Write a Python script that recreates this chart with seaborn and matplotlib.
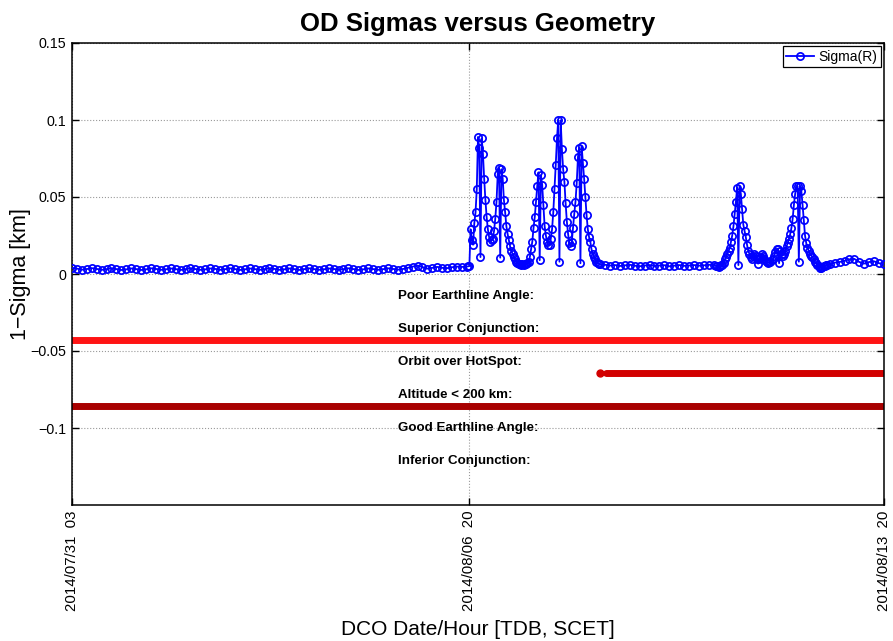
import numpy as np
import pandas as pd
import matplotlib
matplotlib.use("Agg")
import matplotlib.pyplot as plt
import seaborn as sns

# ---------------- data ----------------
START = pd.Timestamp("2014-07-31 03:00")
END_HOURS = 329  # 2014/08/13 20

# sigma(R) series, given as segments: (start hour, step in hours, values in km)
seg_a_start, seg_a_step = 0.0, 2.0
seg_a_vals = [0.0040, 0.0035, 0.0028, 0.0032, 0.0038, 0.0033, 0.0027, 0.0031, 0.0037, 0.0032,
              0.0026, 0.0030, 0.0036, 0.0032, 0.0026, 0.0030, 0.0037, 0.0033, 0.0027, 0.0030,
              0.0036, 0.0032, 0.0026, 0.0031, 0.0037, 0.0032, 0.0027, 0.0030, 0.0036, 0.0033,
              0.0027, 0.0031, 0.0037, 0.0032, 0.0026, 0.0030, 0.0036, 0.0032, 0.0027, 0.0031,
              0.0037, 0.0033, 0.0027, 0.0030, 0.0036, 0.0032, 0.0026, 0.0031, 0.0037, 0.0032,
              0.0027, 0.0030, 0.0036, 0.0033, 0.0027, 0.0031, 0.0037, 0.0032, 0.0026, 0.0030,
              0.0036, 0.0032, 0.0027, 0.0031, 0.0037, 0.0033, 0.0028, 0.0032, 0.0040, 0.0048,
              0.0055, 0.0045, 0.0035, 0.0040, 0.0046, 0.0040, 0.0038, 0.0044, 0.0048, 0.0046,
              0.0048]

seg_b_start, seg_b_step = 160.5, 0.5
seg_b_vals = [0.0050, 0.0052, 0.029, 0.022, 0.019, 0.033, 0.040, 0.055, 0.089, 0.082,
              0.011, 0.088, 0.078, 0.062, 0.048, 0.037, 0.029, 0.024, 0.021, 0.022,
              0.023, 0.028, 0.036, 0.047, 0.065, 0.069, 0.0106, 0.068, 0.062, 0.048,
              0.040, 0.031, 0.026, 0.022, 0.018, 0.015, 0.013, 0.011, 0.0095, 0.0080,
              0.0070, 0.0065, 0.0068, 0.0060, 0.0063, 0.0058, 0.0062, 0.0066, 0.0070, 0.0075,
              0.011, 0.016, 0.021, 0.030, 0.037, 0.047, 0.057, 0.066, 0.009, 0.064,
              0.058, 0.045, 0.031, 0.025, 0.021, 0.019, 0.019, 0.023, 0.029, 0.040,
              0.055, 0.071, 0.088, 0.0998, 0.008, 0.0998, 0.081, 0.068, 0.060, 0.046,
              0.034, 0.026, 0.020, 0.018, 0.021, 0.030, 0.039, 0.047, 0.059, 0.076,
              0.082, 0.007, 0.083, 0.072, 0.062, 0.050, 0.038, 0.029, 0.024, 0.021,
              0.016, 0.013, 0.011, 0.0095, 0.0080, 0.0070, 0.0065, 0.0062]

seg_c_start, seg_c_step = 216.0, 2.0
seg_c_vals = [0.0060, 0.0055, 0.0058, 0.0052, 0.0056, 0.0060, 0.0054, 0.0050, 0.0055, 0.0058,
              0.0052, 0.0055, 0.0057, 0.0050, 0.0054, 0.0058, 0.0053, 0.0055, 0.0058, 0.0054,
              0.0056, 0.0060, 0.0058]

seg_d_start, seg_d_step = 261.0, 0.5
seg_d_vals = [0.0055, 0.0050, 0.0048, 0.0052, 0.0058, 0.0060, 0.0072, 0.0095, 0.011, 0.013,
              0.015, 0.017, 0.021, 0.025, 0.031, 0.039, 0.047, 0.056, 0.0058, 0.057,
              0.052, 0.042, 0.032, 0.028, 0.024, 0.019, 0.015, 0.013, 0.011, 0.010,
              0.012, 0.013, 0.012, 0.010, 0.0067, 0.010, 0.011, 0.013, 0.012, 0.010,
              0.0085, 0.0078, 0.0072, 0.0075, 0.0080, 0.0088, 0.0097, 0.012, 0.014, 0.016,
              0.0165, 0.007, 0.015, 0.013, 0.012, 0.013, 0.015, 0.018, 0.020, 0.023,
              0.026, 0.030, 0.036, 0.045, 0.052, 0.057, 0.057, 0.008, 0.057, 0.054,
              0.045, 0.035, 0.025, 0.020, 0.017, 0.015, 0.013, 0.012, 0.011, 0.0095,
              0.0080, 0.0070, 0.0060, 0.0050, 0.0042, 0.0040, 0.0044, 0.0050, 0.0055, 0.0058,
              0.0060]

seg_e_start, seg_e_step = 307.0, 2.0
seg_e_vals = [0.0065, 0.0074, 0.0078, 0.0086, 0.0095, 0.0098, 0.0078, 0.0068, 0.0078, 0.0082,
              0.0070, 0.0062]

# geometry events: label, level [km], spans (start hour, end hour), colour
event_labels = ["Poor Earthline Angle:", "Superior Conjunction:", "Orbit over HotSpot:",
                "Altitude < 200 km:", "Good Earthline Angle:", "Inferior Conjunction:"]
event_levels = [-0.0214, -0.0429, -0.0643, -0.0857, -0.1071, -0.1286]
event_spans = {
    "Superior Conjunction:": [(0.0, 329.0)],
    "Orbit over HotSpot:": [(213.9, 213.9), (216.3, 329.0)],
    "Altitude < 200 km:": [(0.0, 329.0)],
}
event_colors = {
    "Superior Conjunction:": "#ff1414",
    "Orbit over HotSpot:": "#d20000",
    "Altitude < 200 km:": "#a80000",
}
label_hour = 132.0

x_tick_hours = [0, 161, 329]
y_ticks = [-0.1, -0.05, 0.0, 0.05, 0.1, 0.15]
y_tick_labels = ["\u22120.1", "\u22120.05", "0", "0.05", "0.1", "0.15"]

# ---------------- build frame ----------------
def seg_times(start_h, step_h, vals):
    hrs = start_h + step_h * np.arange(len(vals))
    return START + pd.to_timedelta(hrs, unit="h")

segments = [(seg_a_start, seg_a_step, seg_a_vals), (seg_b_start, seg_b_step, seg_b_vals),
            (seg_c_start, seg_c_step, seg_c_vals), (seg_d_start, seg_d_step, seg_d_vals),
            (seg_e_start, seg_e_step, seg_e_vals)]
times = np.concatenate([seg_times(*s).values for s in segments])
sigmas = np.concatenate([np.asarray(s[2]) for s in segments])
df = pd.DataFrame({"time": pd.to_datetime(times), "sigma": sigmas})

def H(h):
    return START + pd.Timedelta(hours=h)

# ---------------- plot ----------------
plt.rcParams["font.family"] = ["Liberation Sans", "DejaVu Sans"]
fig = plt.figure(figsize=(8.93, 6.41), dpi=100)
ax = fig.add_axes([72 / 893, 136 / 641, 812 / 893, 462 / 641])

sns.lineplot(data=df, x="time", y="sigma", ax=ax, color="blue", marker="o",
             markersize=5.2, markerfacecolor="none", markeredgecolor="blue",
             markeredgewidth=1.25, linewidth=1.3, label="Sigma(R)",
             sort=False, estimator=None, zorder=3)

for lab, lev in zip(event_labels, event_levels):
    ax.text(H(label_hour), lev + 0.0071, lab, fontsize=9.6, fontweight="bold",
            ha="left", va="center", color="black", zorder=4)
    for (s, e) in event_spans.get(lab, []):
        col = event_colors[lab]
        if e - s < 0.5:
            ax.plot([H(s)], [lev], marker="o", markersize=5, color=col,
                    linestyle="none", zorder=2)
        else:
            ax.plot([H(s), H(e)], [lev, lev], color=col, linewidth=5,
                    solid_capstyle="round", zorder=2)

ax.set_xlim(H(0), H(END_HOURS))
ax.set_ylim(-0.15, 0.15)
ax.set_yticks(y_ticks)
ax.set_yticklabels(y_tick_labels, fontsize=10.3)
xt = [H(h) for h in x_tick_hours]
ax.set_xticks(xt)
ax.set_xticklabels([f"{t:%Y/%m/%d}  {t:%H}" for t in xt], rotation=90, fontsize=10.8,
                   va="top", ha="center")

ax.grid(True, linestyle=":", color="#9a9a9a", linewidth=0.8)
ax.set_axisbelow(True)
ax.tick_params(direction="in", length=5, width=1, top=True, right=True, pad=4)
for sp in ax.spines.values():
    sp.set_color("black")
    sp.set_linewidth(1.1)

ax.set_title("OD Sigmas versus Geometry", fontsize=18.5, fontweight="bold", pad=9)
ax.set_ylabel("1\u2212Sigma [km]", fontsize=15.5, labelpad=0)
ax.set_xlabel("DCO Date/Hour [TDB, SCET]", fontsize=15, labelpad=6)

leg = ax.legend(loc="upper right", fontsize=10, frameon=True, fancybox=False,
                edgecolor="black", framealpha=1, borderaxespad=0.25,
                handlelength=2.0, handletextpad=0.3, borderpad=0.25)
leg.get_frame().set_linewidth(0.9)

fig.savefig("out.png", dpi=100)
